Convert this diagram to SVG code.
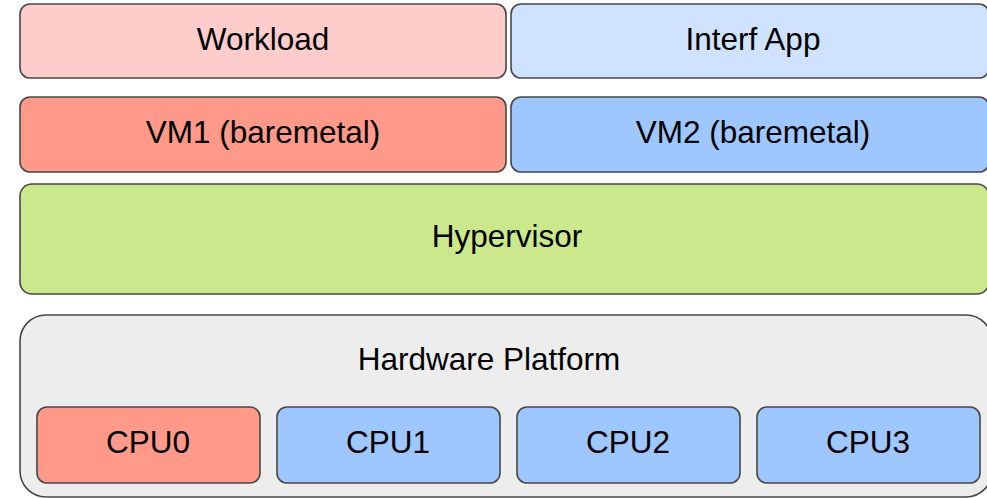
<svg xmlns="http://www.w3.org/2000/svg" width="987" height="498" viewBox="0 0 987 498">
  <style>
    .box { stroke: #474747; stroke-width: 1.6; }
    .lbl { font-family: "Liberation Sans", Arial, sans-serif; font-size: 31.5px; fill: #000000; text-anchor: middle; }
    .red-light { fill: #ffcccc; }
    .red { fill: #ff998a; }
    .blue-light { fill: #cfe2ff; }
    .blue { fill: #9fc7ff; }
    .green { fill: #cbe98c; }
    .gray { fill: #ededed; }
  </style>
  <rect width="987" height="498" fill="#ffffff"/>

  <g id="workload">
    <rect class="box red-light" x="20" y="4" width="486" height="74" rx="10"/>
    <text class="lbl" x="263" y="50">Workload</text>
  </g>
  <g id="interf-app">
    <rect class="box blue-light" x="511" y="4" width="478" height="74" rx="10"/>
    <text class="lbl" x="753" y="50">Interf App</text>
  </g>

  <g id="vm1">
    <rect class="box red" x="20" y="97" width="486" height="75" rx="10"/>
    <text class="lbl" x="263" y="143">VM1 (baremetal)</text>
  </g>
  <g id="vm2">
    <rect class="box blue" x="511" y="97" width="478" height="75" rx="10"/>
    <text class="lbl" x="753" y="143">VM2 (baremetal)</text>
  </g>

  <g id="hypervisor">
    <rect class="box green" x="20" y="184" width="969" height="110" rx="12"/>
    <text class="lbl" x="507" y="247">Hypervisor</text>
  </g>

  <g id="hardware-platform">
    <rect class="box gray" x="20" y="315" width="972" height="182" rx="26"/>
    <text class="lbl" x="489" y="370">Hardware Platform</text>
  </g>

  <g id="cpu0">
    <rect class="box red" x="37" y="407" width="223" height="76" rx="10"/>
    <text class="lbl" x="148" y="453">CPU0</text>
  </g>
  <g id="cpu1">
    <rect class="box blue" x="277" y="407" width="223" height="76" rx="10"/>
    <text class="lbl" x="388" y="453">CPU1</text>
  </g>
  <g id="cpu2">
    <rect class="box blue" x="517" y="407" width="223" height="76" rx="10"/>
    <text class="lbl" x="628" y="453">CPU2</text>
  </g>
  <g id="cpu3">
    <rect class="box blue" x="757" y="407" width="223" height="76" rx="10"/>
    <text class="lbl" x="868" y="453">CPU3</text>
  </g>

  <g id="connectors"/>
</svg>
